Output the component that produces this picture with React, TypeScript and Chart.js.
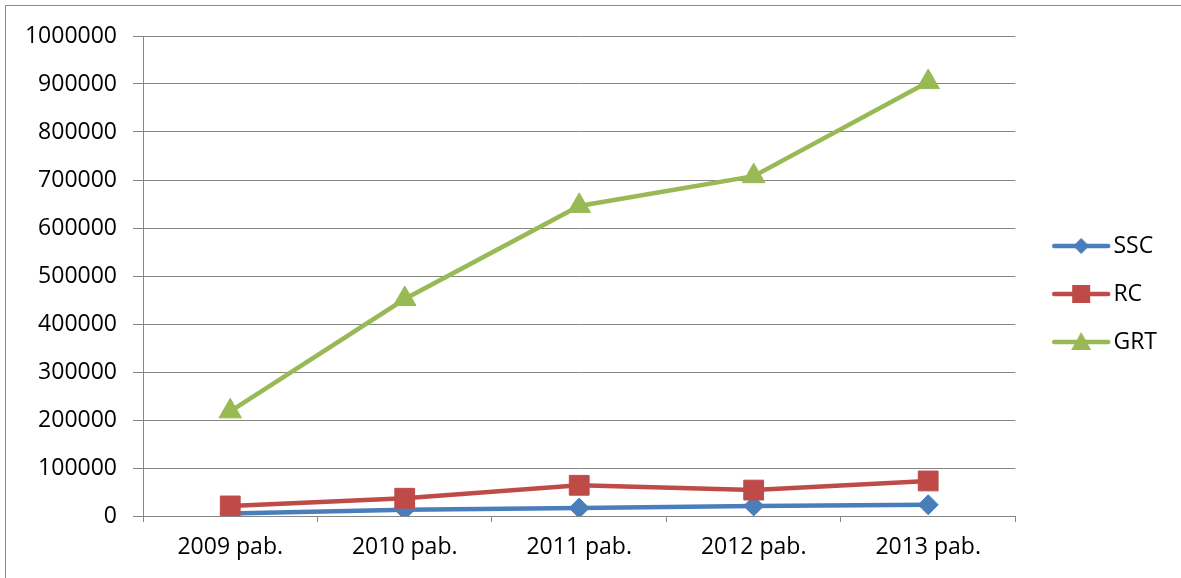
import { useEffect, useRef } from "react";
import { Chart, registerables } from "chart.js";

Chart.register(...registerables);

const categories = ["2009 pab.", "2010 pab.", "2011 pab.", "2012 pab.", "2013 pab."];
const seriesNames = ["SSC", "RC", "GRT"];
const sscValues = [5000, 13000, 16500, 21000, 23500];
const rcValues = [21000, 37000, 64000, 54000, 73000];
const grtValues = [218000, 452000, 646000, 708000, 904000];
const yMin = 0;
const yMax = 1000000;
const yStep = 100000;

const COLORS = ["#4A7EBB", "#BE4B48", "#98B954"];
const FONT = "'Open Sans', 'DejaVu Sans', sans-serif";

function legendImage(color: string, kind: string): HTMLCanvasElement {
  const c = document.createElement("canvas");
  c.width = 100;
  c.height = 30;
  const ctx = c.getContext("2d")!;
  ctx.strokeStyle = color;
  ctx.fillStyle = color;
  ctx.lineWidth = 4.5;
  ctx.lineCap = "round";
  ctx.beginPath();
  ctx.moveTo(33, 15);
  ctx.lineTo(87, 15);
  ctx.stroke();
  const cx = 60;
  const cy = 15;
  ctx.beginPath();
  if (kind === "diamond") {
    ctx.moveTo(cx, cy - 8);
    ctx.lineTo(cx + 8, cy);
    ctx.lineTo(cx, cy + 8);
    ctx.lineTo(cx - 8, cy);
  } else if (kind === "square") {
    ctx.rect(cx - 9, cy - 9, 18, 18);
  } else {
    ctx.moveTo(cx, cy - 10);
    ctx.lineTo(cx + 10, cy + 8);
    ctx.lineTo(cx - 10, cy + 8);
  }
  ctx.closePath();
  ctx.fill();
  return c;
}

export default function App() {
  const ref = useRef<HTMLCanvasElement | null>(null);

  useEffect(() => {
    if (!ref.current) return;
    const legendImgs = [
      legendImage(COLORS[0], "diamond"),
      legendImage(COLORS[1], "square"),
      legendImage(COLORS[2], "triangle"),
    ];
    const font = { family: FONT, size: 23 };
    const chart = new Chart(ref.current, {
      type: "line",
      data: {
        labels: categories,
        datasets: [
          {
            label: seriesNames[0],
            data: sscValues,
            borderColor: COLORS[0],
            backgroundColor: COLORS[0],
            borderWidth: 4.5,
            pointStyle: "rectRot",
            pointRadius: 10,
            pointBorderWidth: 1,
            pointBackgroundColor: COLORS[0],
            pointBorderColor: COLORS[0],
            tension: 0,
            order: 3,
          },
          {
            label: seriesNames[1],
            data: rcValues,
            borderColor: COLORS[1],
            backgroundColor: COLORS[1],
            borderWidth: 4.5,
            pointStyle: "rect",
            pointRadius: 14,
            pointBorderWidth: 1,
            pointBackgroundColor: COLORS[1],
            pointBorderColor: COLORS[1],
            tension: 0,
            order: 2,
          },
          {
            label: seriesNames[2],
            data: grtValues,
            borderColor: COLORS[2],
            backgroundColor: COLORS[2],
            borderWidth: 4.5,
            pointStyle: "triangle",
            pointRadius: 13,
            pointBorderWidth: 1,
            pointBackgroundColor: COLORS[2],
            pointBorderColor: COLORS[2],
            tension: 0,
            order: 1,
          },
        ],
      },
      options: {
        animation: false,
        responsive: false,
        events: [],
        layout: { padding: { top: 36, bottom: 0, left: 0, right: 14 } },
        scales: {
          x: {
            type: "category",
            offset: true,
            grid: {
              offset: true,
              drawOnChartArea: false,
              drawTicks: true,
              tickLength: 6,
              color: "#868686",
              lineWidth: 1,
            },
            border: { display: true, color: "#868686", width: 1 },
            ticks: {
              color: "#000",
              font,
              padding: 12,
              maxRotation: 0,
              autoSkip: false,
            },
            afterFit: (s: any) => {
              s.height = 62;
            },
          },
          y: {
            min: yMin,
            max: yMax,
            grid: {
              color: "#868686",
              lineWidth: 1,
              drawTicks: true,
              tickLength: 10,
            },
            border: { display: true, color: "#868686", width: 1 },
            ticks: {
              stepSize: yStep,
              color: "#000",
              font,
              padding: 16,
              callback: (v: any) => String(v),
            },
            afterFit: (s: any) => {
              s.width = 143;
            },
          },
        },
        plugins: {
          tooltip: { enabled: false },
          legend: {
            position: "right",
            align: "center",
            fullSize: false,
            title: {
              display: true,
              text: " ",
              font: { size: 10 },
              padding: 12,
            },
            labels: {
              usePointStyle: true,
              pointStyleWidth: 61.5,
              padding: 25,
              color: "#000",
              font,
              sort: (a: any, b: any) => a.datasetIndex - b.datasetIndex,
              generateLabels: (c: any) => {
                const items = (Chart.defaults.plugins.legend.labels as any).generateLabels(c);
                return items.map((it: any) => ({
                  ...it,
                  pointStyle: legendImgs[it.datasetIndex],
                  fontColor: "#000",
                }));
              },
            },
          },
        },
      } as any,
    });
    return () => chart.destroy();
  }, []);

  return (
    <div
      style={{
        position: "fixed",
        left: 0,
        top: 0,
        width: 1181,
        height: 578,
        overflow: "hidden",
        background: "#fff",
      }}
    >
      <div
        style={{
          position: "absolute",
          left: 5,
          top: 5,
          width: 2000,
          height: 2000,
          borderLeft: "1px solid #8a8a8a",
          borderTop: "1px solid #8a8a8a",
        }}
      />
      <canvas
        ref={ref}
        width={1181}
        height={578}
        style={{ position: "absolute", left: 0, top: 0, display: "block" }}
      />
    </div>
  );
}
